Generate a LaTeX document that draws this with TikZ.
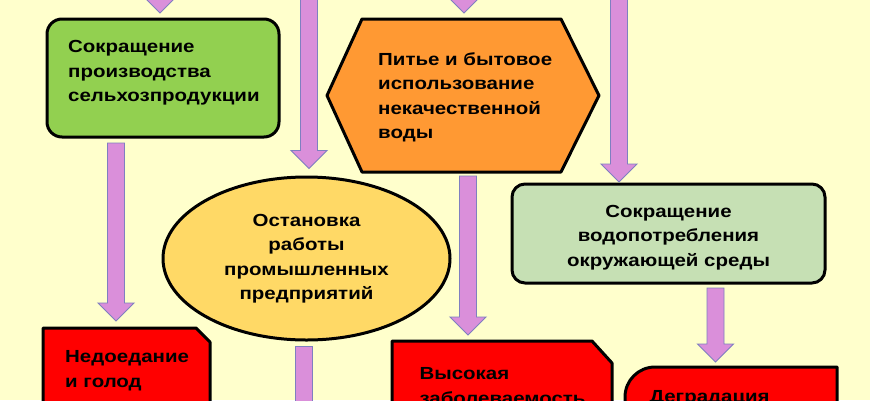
\documentclass[tikz,border=0pt]{standalone}
\usepackage{fontspec}
\setmainfont{Liberation Sans}[FakeStretch=1.17]
\usetikzlibrary{calc,shapes.geometric}
\definecolor{bgc}{HTML}{FFFFCC}
\definecolor{greenc}{HTML}{92D050}
\definecolor{orangec}{HTML}{FF9933}
\definecolor{ellc}{HTML}{FFD966}
\definecolor{greyc}{HTML}{C6E0B4}
\definecolor{redc}{HTML}{FF0000}
\definecolor{arrowfill}{HTML}{DA8FDA}
\definecolor{arrowline}{HTML}{7F7FC0}
\tikzset{
  shapeline/.style={draw=black, line width=3pt, line join=round},
  holder/.style={inner sep=0pt, outer sep=0pt},
  txt/.style={inner sep=0pt, align=left, font=\fontsize{17.5pt}{24.5pt}\selectfont\bfseries, text=black},
  barrow/.style={fill=arrowfill, draw=arrowline, line width=0.9pt, line join=miter},
}
\newcommand\myblockarrow[2]{%
  \draw[barrow] let \p1=(#1), \p2=(#2) in
   (\x1-8.5pt,\y1) -- (\x1+8.5pt,\y1) -- (\x1+8.5pt,\y2+18pt) -- (\x1+18pt,\y2+18pt)
   -- (\x1,\y2) -- (\x1-18pt,\y2+18pt) -- (\x1-8.5pt,\y2+18pt) -- cycle;}
\begin{document}
\begin{tikzpicture}[x=1pt,y=-1pt]
\useasboundingbox (0,0) rectangle (870,400);
\fill[bgc] (0,0) rectangle (870,400);
\clip (0,0) rectangle (870,400);

% green box
\node[holder, shapeline, fill=greenc, rounded corners=15pt, minimum width=232pt, minimum height=118pt] (green) at (163,78) {};
\node[txt, anchor=north west] (tgreen) at (68,40.5) {Сокращение\\производства\\сельхозпродукции};

% hexagon
\node[holder, minimum width=272pt, minimum height=153pt] (hex) at (463,95.5) {};
\draw[shapeline, fill=orangec] (hex.west) -- ([xshift=35pt]hex.north west) -- ([xshift=-38pt]hex.north east)
  -- (hex.east) -- ([xshift=-38pt]hex.south east) -- ([xshift=35pt]hex.south west) -- cycle;
\node[txt, anchor=north west] (thex) at (378,52.4) {Питье и бытовое\\использование\\некачественной\\воды};

% ellipse
\node[ellipse, shapeline, fill=ellc, inner sep=0pt, minimum width=287pt, minimum height=163pt, align=center,
  font=\fontsize{17.5pt}{24.5pt}\selectfont\bfseries] (ell) at (306.5,258.5)
  {Остановка\\работы\\промышленных\\предприятий};

% grey-green box
\node[holder, shapeline, fill=greyc, rounded corners=13pt, minimum width=313pt, minimum height=99pt] (grey) at (668.5,233.5) {};
\node[txt, align=center, anchor=north] (tgrey) at (668.5,205) {Сокращение\\водопотребления\\окружающей среды};

% red box 1
\node[holder, minimum width=167pt, minimum height=92pt] (red1) at (126.5,374) {};
\draw[shapeline, fill=redc] (red1.south west) -- (red1.north west) -- ([xshift=-14pt]red1.north east)
  -- ([yshift=-14pt]red1.north east) -- (red1.south east) -- cycle;
\node[txt, anchor=north west] (tred1) at (65,350.5) {Недоедание\\и голод};

% red box 2
\node[holder, minimum width=220pt, minimum height=79pt] (red2) at (502,380.5) {};
\draw[shapeline, fill=redc] (red2.south west) -- (red2.north west) -- ([xshift=-20pt]red2.north east)
  -- ([yshift=-22pt]red2.north east) -- (red2.south east) -- cycle;
\node[txt, anchor=north west] (tred2) at (419.3,367.3) {Высокая\\заболеваемость};

% red box 3
\node[holder, minimum width=212pt, minimum height=53pt] (red3) at (731,393.5) {};
\draw[shapeline, fill=redc] (red3.south west) -- ([yshift=-30pt]red3.north west)
  arc[start angle=180, end angle=90, radius=30pt] -- (red3.north east) -- (red3.south east) -- cycle;
\node[txt, anchor=north west] (tred3) at (649.3,390) {Деградация};

% arrow coordinates
\coordinate (a1s) at (160,-40);
\coordinate (a1t) at ($(green.north -| a1s)+(0,-6)$);
\coordinate (a3s) at (464,-40);
\coordinate (a3t) at ($(hex.north -| a3s)+(0,-6)$);
\coordinate (a2s) at (309,-10);
\coordinate (a2t) at ($(ell.north -| a2s)+(0,-7)$);
\coordinate (a4s) at (619,-10);
\coordinate (a4t) at ($(grey.north -| a4s)+(0,-2)$);
\coordinate (a5s) at ($(hex.south)+(5,4)$);
\coordinate (a5t) at ($(red2.north -| a5s)+(0,-6)$);
\coordinate (a6s) at ($(green.south)+(-47,6)$);
\coordinate (a6t) at ($(red1.north -| a6s)+(0,-7)$);
\coordinate (a7s) at ($(ell.south)+(-2.5,5)$);
\coordinate (a7t) at ($(a7s)+(0,120)$);
\coordinate (a8s) at ($(grey.south)+(47,5)$);
\coordinate (a8t) at ($(red3.north -| a8s)+(0,-5)$);

\myblockarrow{a1s}{a1t}
\myblockarrow{a3s}{a3t}
\myblockarrow{a2s}{a2t}
\myblockarrow{a4s}{a4t}
\myblockarrow{a5s}{a5t}
\myblockarrow{a6s}{a6t}
\myblockarrow{a7s}{a7t}
\myblockarrow{a8s}{a8t}
\end{tikzpicture}
\end{document}
